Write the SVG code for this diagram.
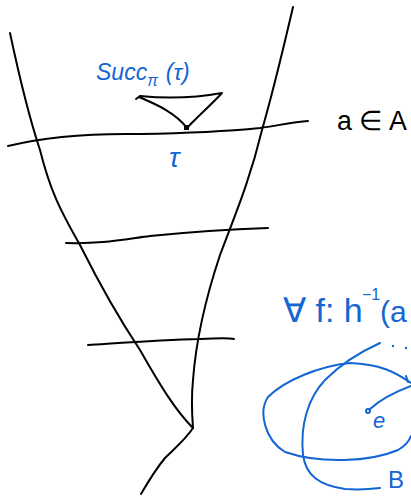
<svg xmlns="http://www.w3.org/2000/svg" width="411" height="497" viewBox="0 0 411 497">
<style>
.k{fill:none;stroke:#000;stroke-width:2;stroke-linecap:round;stroke-linejoin:round}
.b{fill:none;stroke:#1466d2;stroke-width:2;stroke-linecap:round;stroke-linejoin:round}
.bt{fill:#1466d2;font-family:"Liberation Sans",Arial,sans-serif}
.kt{fill:#000;font-family:"Liberation Sans",Arial,sans-serif}
</style>
<rect width="411" height="497" fill="#fff"/>
<g id="cone">
<path class="k" d="M10,33 C20,80 30,120 40,150 C50,190 60,210 80,245 C100,285 120,320 140,350 C160,385 175,410 193,428"/>
<path class="k" d="M293,7 C283,50 272,95 262,130 C250,180 235,215 220,255 C205,300 196,340 193,380 C191,400 192,415 193,428"/>
<path class="k" d="M193,428 C185,440 175,448 165,458 C155,470 148,482 141,494"/>
</g>
<g id="slices">
<path class="k" d="M8,146 C40,138 80,133 140,134 C200,133 240,130 260,128 C280,125 295,122 308,121"/>
<path class="k" d="M66,243 C100,244 120,240 150,236 C200,231 240,229 268,228"/>
<path class="k" d="M88,345 C120,343 160,340 200,339 C220,338 230,338 234,339"/>
</g>
<g id="succ">
<path class="k" d="M136,99 L140,96 C170,99 200,97 222,93 C210,106 198,116 187,128 C175,112 155,104 139,97"/>
<rect x="184" y="125" width="5" height="5" fill="#000"/>
<text class="bt" x="96" y="80" font-size="23" font-style="italic">Succ<tspan font-size="16" dy="6">π</tspan><tspan dy="-6" dx="8">(τ)</tspan></text>
<text class="bt" x="169" y="167" font-size="28" font-style="italic">τ</text>
</g>
<g id="labelA">
<text class="kt" x="337" y="130" font-size="27" textLength="70" lengthAdjust="spacingAndGlyphs">a ∈ A</text>
</g>
<g id="preimage">
<text class="bt" x="283" y="322" font-size="34">∀ f: h</text>
<text class="bt" x="362" y="300" font-size="16">−1</text>
<text class="bt" x="380" y="322" font-size="30">(a</text>
<circle cx="393" cy="346" r="1.2" fill="#1466d2"/>
<circle cx="406" cy="348" r="1.2" fill="#1466d2"/>
<path class="b" d="M411,383 C395,372 380,364 350,363 C320,366 285,380 268,397 C258,412 265,440 285,452 C320,464 370,462 398,450 C405,446 409,441 411,436"/>
<path class="b" d="M380,343 C360,352 340,365 325,380 C308,398 300,425 303,455 C306,475 318,485 345,489 C360,490 372,489 380,488"/>
<circle class="b" cx="368" cy="411" r="2" stroke-width="1.6"/>
<path class="b" d="M370,409 C380,400 395,392 411,386"/>
<path class="b" d="M406,376 L408,382"/>
<text class="bt" x="373" y="428" font-size="22" font-style="italic">e</text>
<text class="bt" x="388" y="488" font-size="24">B</text>
</g>
</svg>
